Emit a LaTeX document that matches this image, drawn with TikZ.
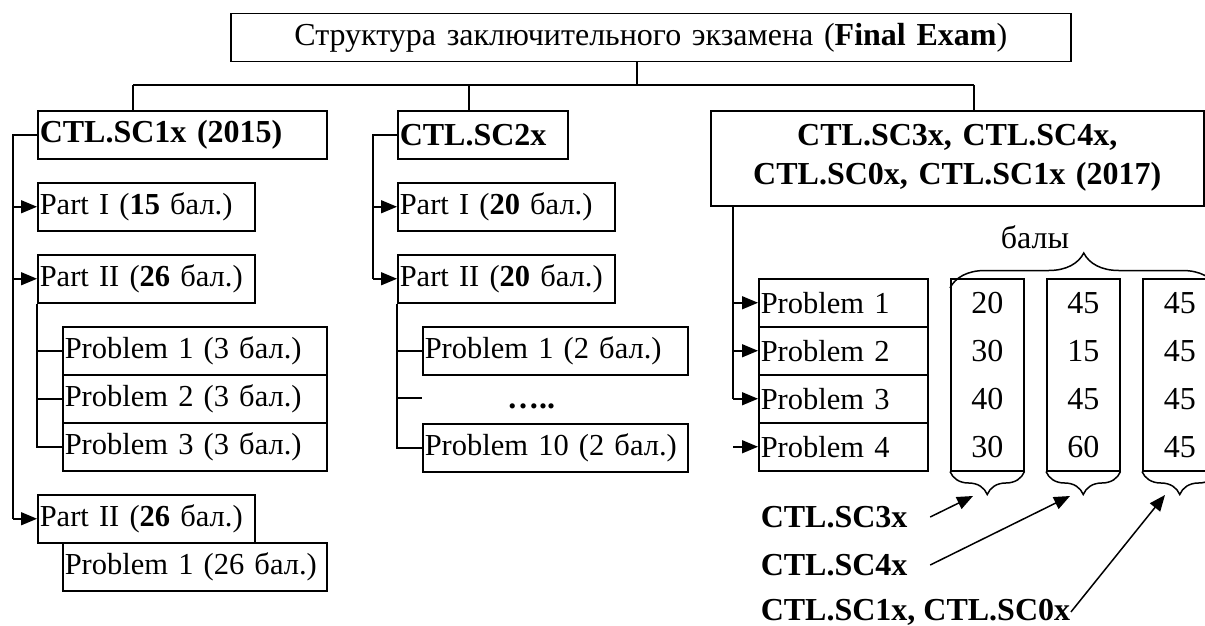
\documentclass[tikz,border=0pt]{standalone}
\usepackage{fontspec}
\setmainfont{Liberation Serif}
\usetikzlibrary{arrows.meta,decorations.pathreplacing,calc}

\begin{document}
\begin{tikzpicture}[x=1pt,y=-1pt,line width=1.5pt,
  font=\fontsize{32}{39}\selectfont,
  box/.style={draw,anchor=north west,minimum height=48,inner xsep=2pt,inner ysep=0pt,text width=#1,align=left,font=\fontsize{30.5}{39}\selectfont},
  head/.style={box=#1,font=\fontsize{32}{39}\selectfont},
  col/.style={draw,anchor=north west,minimum width=#1,minimum height=192,inner sep=0pt,align=center,font=\fontsize{32}{48}\selectfont},
  arr/.style={-{Triangle[length=16pt,width=13pt]}},
  brc/.style={decorate,decoration={brace,amplitude=#1}}]
\useasboundingbox (0,0) rectangle (1205,626);

\node[head=836,align=center] (top) at (230,13) {Структура заключительного экзамена (\textbf{Final Exam})};
\coordinate (bus) at (637,85);
\coordinate (b1) at (133,85);
\coordinate (b2) at (469,85);
\coordinate (b3) at (974,85);

%%%%%%%%%%%%%%%%%%%%%%%%%%%%%%%%%%%%%%%%%%%%%%%%%%%%%%%%%%%%%%%%%%%%%%%%%%%%%%%%
\node[head=285] (sc1) at (37,110) {\textbf{CTL.SC1x (2015)}};
\node[box=213] (pa1) at (37,182) {Part I (\textbf{15} бал.)};
\node[box=213] (pa2) at (37,254) {Part II (\textbf{26} бал.)};
\node[box=260] (pa21) at (62,326) {Problem 1 (3 бал.)};
\node[box=260] (pa22) at (62,374) {Problem 2 (3 бал.)};
\node[box=260] (pa23) at (62,422) {Problem 3 (3 бал.)};
\node[box=213] (pa3) at (37,494) {Part II (\textbf{26} бал.)};
\node[box=260] (pa31) at (62,542) {Problem 1 (26 бал.)};

%%%%%%%%%%%%%%%%%%%%%%%%%%%%%%%%%%%%%%%%%%%%%%%%%%%%%%%%%%%%%%%%%%%%%%%%%%%%%%%%
\node[head=166] (sc2) at (397,110) {\textbf{CTL.SC2x}};
\node[box=213] (pb1) at (397,182) {Part I (\textbf{20} бал.)};
\node[box=213] (pb2) at (397,254) {Part II (\textbf{20} бал.)};
\node[box=261] (pb21) at (422,326) {Problem 1 (2 бал.)};
\node (dots) at (531,406) {\textbf{…..}};
\node[box=261] (pb22) at (422,423) {Problem 10 (2 бал.)};
\coordinate (pbx) at (422,398);

%%%%%%%%%%%%%%%%%%%%%%%%%%%%%%%%%%%%%%%%%%%%%%%%%%%%%%%%%%%%%%%%%%%%%%%%%%%%%%%%
\node[head=489,minimum height=95,align=center] (sc3) at (710,110) {\textbf{CTL.SC3x, CTL.SC4x,}\\\textbf{CTL.SC0x, CTL.SC1x (2017)}};
\node[box=165] (pc1) at (758,278) {Problem 1};
\node[box=165] (pc2) at (758,326) {Problem 2};
\node[box=165] (pc3) at (758,374) {Problem 3};
\node[box=165] (pc4) at (758,422) {Problem 4};
\node[col=73] (c1) at (950,278) {20\\30\\40\\30};
\node[col=73] (c2) at (1046,278) {45\\15\\45\\60};
\node[col=74] (c3) at (1142,278) {45\\45\\45\\45};
\node (bl) at (1035,237) {балы};
\node[anchor=west,inner sep=0pt] (k1) at (760,517) {\textbf{CTL.SC3x}};
\node[anchor=west,inner sep=0pt] (k2) at (760,565) {\textbf{CTL.SC4x}};
\node[anchor=west,inner sep=0pt] (k3) at (760,612) {\textbf{CTL.SC1x, CTL.SC0x}};
\coordinate (t1) at (973,496);
\coordinate (t2) at (1070,496);
\coordinate (t3) at (1165,495);

% connectors from the title
\draw (bus |- top.south) -- (bus);
\draw (b1) -- (b3);
\draw (b1) -- (b1 |- sc1.north);
\draw (b2) -- (b2 |- sc2.north);
\draw (b3) -- (b3 |- sc3.north);

% left tree
\coordinate (l1) at (13,0);
\draw (sc1.west) -- (sc1.west -| l1) -- (l1 |- pa3.west);
\draw[arr] (l1 |- pa1.west) -- (pa1.west);
\draw[arr] (l1 |- pa2.west) -- (pa2.west);
\draw[arr] (l1 |- pa3.west) -- (pa3.west);
\draw (pa2.south west) -- (pa2.south west |- pa23.west) -- (pa23.west);
\draw (pa2.south west |- pa21.west) -- (pa21.west);
\draw (pa2.south west |- pa22.west) -- (pa22.west);

% middle tree
\coordinate (l2) at (373,0);
\draw (sc2.west) -- (sc2.west -| l2) -- (l2 |- pb2.west);
\draw[arr] (l2 |- pb1.west) -- (pb1.west);
\draw[arr] (l2 |- pb2.west) -- (pb2.west);
\draw (pb2.south west) -- (pb2.south west |- pb22.west) -- (pb22.west);
\draw (pb2.south west |- pb21.west) -- (pb21.west);
\draw (pb2.south west |- pbx) -- (pbx);

% right tree
\coordinate (l3) at (733,0);
\draw (sc3.south -| l3) -- (l3 |- pc3.west);
\draw[arr] (l3 |- pc1.west) -- (pc1.west);
\draw[arr] (l3 |- pc2.west) -- (pc2.west);
\draw[arr] (l3 |- pc3.west) -- (pc3.west);
\draw[arr] (l3 |- pc4.west) -- (pc4.west);

% braces
\draw[brc=35] ($(c1.north west)+(0,10)$) -- ($(c3.north east)+(0,10)$);
\draw[brc=23] (c1.south east) -- (c1.south west);
\draw[brc=23] (c2.south east) -- (c2.south west);
\draw[brc=23] (c3.south east) -- (c3.south west);

\draw[arr] ([xshift=22pt]k1.east) -- (t1);
\draw[arr] ([xshift=22pt]k2.east) -- (t2);
\draw[arr] (k3.east) -- (t3);
\end{tikzpicture}
\end{document}
